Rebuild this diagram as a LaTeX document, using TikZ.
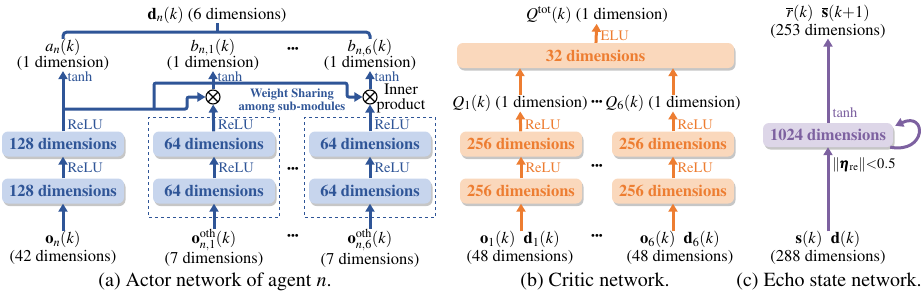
\documentclass[tikz,border=0pt]{standalone}
\usepackage[T1]{fontenc}
\usepackage{amsmath,amssymb}
\usepackage{mathptmx}
\usepackage{tikz}
\usetikzlibrary{arrows.meta,positioning,calc,fit,shadows}
\usepackage{xcolor}
\definecolor{actcol}{RGB}{47,85,151}
\definecolor{actfill}{RGB}{199,213,237}
\definecolor{crtcol}{RGB}{237,125,49}
\definecolor{crtfill}{RGB}{250,216,188}
\definecolor{esncol}{RGB}{125,97,160}
\definecolor{esnfill}{RGB}{221,214,232}

\begin{document}
\begin{tikzpicture}[x=1pt, y=-1pt,
    >={Triangle[length=8pt,width=9pt]},
    font=\fontsize{16.5}{16.5}\selectfont,
    block/.style={rectangle, rounded corners=6pt, minimum width=122pt, minimum height=25pt, inner sep=0pt, align=center, font=\fontsize{16.5}{16}\selectfont\bfseries, drop shadow={shadow xshift=1.5pt, shadow yshift=-2.5pt, opacity=0.45}},
    arrow/.style={->, line width=3pt},
    lbl/.style={align=center, inner sep=0pt},
    act/.style={font=\fontsize{14.5}{14}\selectfont, inner sep=2pt, xshift=1pt},
    dots/.style={font=\fontsize{11}{10}\selectfont, inner sep=0pt},
    subcap/.style={font=\fontsize{20}{20}\selectfont},
    prod/.style={circle, draw, line width=1.1pt, fill=white, minimum size=14pt, inner sep=0pt,
        path picture={\draw[line width=1.1pt] (path picture bounding box.north west) -- (path picture bounding box.south east)
            (path picture bounding box.north east) -- (path picture bounding box.south west);}},
]
\useasboundingbox (0,0) rectangle (924,295);

% (a) actor network
\node[block, fill=actfill, text=actcol] (a1) at (63,191) {128 dimensions};
\node[block, fill=actfill, text=actcol] (a2) at (63,144) {128 dimensions};
\node[block, fill=actfill, text=actcol] (b1) at (214,191) {64 dimensions};
\node[block, fill=actfill, text=actcol] (b2) at (214,144) {64 dimensions};
\node[block, fill=actfill, text=actcol] (f1) at (370,191) {64 dimensions};
\node[block, fill=actfill, text=actcol] (f2) at (370,144) {64 dimensions};
\node[draw=actcol, dashed, line width=1.1pt, fit=(b1)(b2), inner xsep=4pt, inner ysep=14pt] (grpb) {};
\node[draw=actcol, dashed, line width=1.1pt, fit=(f1)(f2), inner xsep=4pt, inner ysep=14pt] (grpf) {};

\node[lbl] (oa) at (63,248) {$\mathbf{o}_n(k)$\\[1pt](42 dimensions)};
\node[lbl] (ob) at (214,248) {$\mathbf{o}^{\mathrm{oth}}_{n,1}(k)$\\[1pt](7 dimensions)};
\node[lbl] (of) at (370,248) {$\mathbf{o}^{\mathrm{oth}}_{n,6}(k)$\\[1pt](7 dimensions)};
\node[lbl] (ya) at (63,55) {$a_n(k)$\\(1 dimension)};
\node[lbl] (yb) at (213,55) {$b_{n,1}(k)$\\(1 dimension)};
\node[lbl] (yf) at (370,55) {$b_{n,6}(k)$\\(1 dimension)};
\node[lbl] (dn) at (217,15) {$\mathbf{d}_n(k)$ (6 dimensions)};
\node[prod] (m1) at (213,97) {};
\node[prod] (m6) at (370,97) {};
\node[align=center, inner sep=0pt, font=\fontsize{16}{15}\selectfont] (inner) at (401,99) {Inner\\product};
\node[font=\fontsize{12.5}{12.5}\selectfont\bfseries, text=actcol, align=center, inner sep=0pt] (ws) at (292,101) {Weight Sharing\\among sub-modules};
\node[dots] at (293,50) {\textbullet\textbullet\textbullet};
\node[dots] at (293,170) {\textbullet\textbullet\textbullet};
\node[dots] at (293,237) {\textbullet\textbullet\textbullet};

\draw[arrow, actcol] (oa) -- (a1);
\draw[arrow, actcol] (a1) -- node[midway, right, act] {ReLU} (a2);
\draw[arrow, actcol] (a2) -- node[pos=0.11, right, act] {ReLU} node[pos=0.9, right, act] {tanh} (ya);
\draw[arrow, actcol] (ob) -- (b1);
\draw[arrow, actcol] (b1) -- node[midway, right, act] {ReLU} (b2);
\draw[arrow, actcol] (b2) -- node[pos=0.25, right, act] {ReLU} (m1);
\draw[arrow, actcol] (m1) -- node[pos=0.7, right, act] {tanh} (yb);
\draw[arrow, actcol] (of) -- (f1);
\draw[arrow, actcol] (f1) -- node[midway, right, act] {ReLU} (f2);
\draw[arrow, actcol] (f2) -- node[pos=0.25, right, act] {ReLU} (m6);
\draw[arrow, actcol] (m6) -- node[pos=0.7, right, act] {tanh} (yf);

\coordinate (tapA) at (63,109);
\coordinate (kinkA) at (187,109);
\coordinate (tapB) at (154,109);
\coordinate (kinkB) at (347,83);
\draw[arrow, actcol, rounded corners=2pt] (tapA) -- (kinkA) |- (m1);
\draw[arrow, actcol, rounded corners=2pt] (tapB) |- (kinkB) |- (m6);

\coordinate (br) at (217,32);
\draw[actcol, line width=3pt, rounded corners=4pt] (ya.north) |- (br) -| (yf.north);
\draw[actcol, line width=3pt] (br) -- (dn.south);

\node[subcap] (capa) at (215,282) {(a) Actor network of agent $n$.};

% (b) critic network
\node[block, fill=crtfill, text=crtcol, minimum width=277pt] (c32) at (595.5,55.5) {32 dimensions};
\node[block, fill=crtfill, text=crtcol] (c11) at (521,191) {256 dimensions};
\node[block, fill=crtfill, text=crtcol] (c12) at (521,144) {256 dimensions};
\node[block, fill=crtfill, text=crtcol] (c61) at (673,191) {256 dimensions};
\node[block, fill=crtfill, text=crtcol] (c62) at (673,144) {256 dimensions};
\node[lbl] (qtot) at (597,15) {$Q^{\mathrm{tot}}(k)$ (1 dimension)};
\node[lbl] (q1) at (520,103) {$Q_1(k)$ (1 dimension)};
\node[lbl] (q6) at (673,103) {$Q_6(k)$ (1 dimension)};
\node[lbl] (in1) at (520,248) {$\mathbf{o}_1(k)$\ \ $\mathbf{d}_1(k)$\\[1pt](48 dimensions)};
\node[lbl] (in6) at (680,248) {$\mathbf{o}_6(k)$\ \ $\mathbf{d}_6(k)$\\[1pt](48 dimensions)};
\node[dots] at (597,103) {\textbullet\textbullet\textbullet};
\node[dots] at (597,167) {\textbullet\textbullet\textbullet};
\node[dots] at (597,237) {\textbullet\textbullet\textbullet};

\draw[arrow, crtcol] (c32) -- node[pos=0.37, right, act] {ELU} (qtot);
\draw[arrow, crtcol] (q1) -- (q1 |- c32.south);
\draw[arrow, crtcol] (q6) -- (q6 |- c32.south);
\draw[arrow, crtcol] (c12) -- node[pos=0.32, right, act] {ReLU} (q1);
\draw[arrow, crtcol] (c62) -- node[pos=0.32, right, act] {ReLU} (q6);
\draw[arrow, crtcol] (c11) -- node[midway, right, act] {ReLU} (c12);
\draw[arrow, crtcol] (c61) -- node[midway, right, act] {ReLU} (c62);
\draw[arrow, crtcol] (in1.north -| c11) -- (c11);
\draw[arrow, crtcol] (in6.north -| c61) -- (c61);

\node[subcap] (capb) at (595,282) {(b) Critic network.};

% (c) echo state network
\node[block, fill=esnfill, text=esncol, minimum width=130pt, minimum height=24pt] (esn) at (828,135) {1024 dimensions};
\node[lbl] (eout) at (828,22) {$\overline{r}(k)$\ \ $\overline{\mathbf{s}}(k{+}1)$\\[1pt](253 dimensions)};
\node[lbl] (ein) at (828,248) {$\mathbf{s}(k)$\ \ $\mathbf{d}(k)$\\[1pt](288 dimensions)};
\draw[arrow, esncol] (esn) -- node[pos=0.12, right, act, text=esncol] {tanh} (eout);
\draw[arrow, esncol] (ein) -- node[pos=0.79, right, act, text=black] {$\|\pmb{\eta}_{\mathrm{re}}\|{<}0.5$} (esn);
\draw[arrow, esncol] ([xshift=-3pt]esn.south east) .. controls (927,154) and (927,111) .. ([xshift=2pt,yshift=-3pt]esn.north east);

\node[subcap] (capc) at (829,282) {(c) Echo state network.};
\end{tikzpicture}
\end{document}
